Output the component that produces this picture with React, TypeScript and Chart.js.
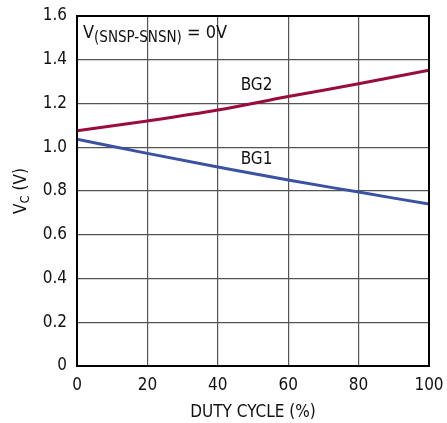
import React, { useEffect, useRef } from "react";
import { Chart, registerables } from "chart.js";
Chart.register(...registerables);

const dutyCycle = [0, 20, 40, 60, 80, 100];
const bg2 = [1.075, 1.12, 1.17, 1.232, 1.29, 1.352];
const bg1 = [1.037, 0.972, 0.91, 0.85, 0.795, 0.74];
const xTicks = [0, 20, 40, 60, 80, 100];
const yTicks = [0, 0.2, 0.4, 0.6, 0.8, 1.0, 1.2, 1.4, 1.6];

const FONT = "'DejaVu Sans Condensed', 'Liberation Sans Narrow', sans-serif";

const textPlugin = {
  id: "textPlugin",
  afterDraw(chart: any) {
    const ctx = chart.ctx;
    const xs = chart.scales.x;
    const ys = chart.scales.y;
    ctx.save();
    ctx.fillStyle = "#111";
    ctx.textBaseline = "middle";
    ctx.font = `17px ${FONT}`;
    ctx.textAlign = "left";
    ctx.fillText("BG2", xs.getPixelForValue(46.5), ys.getPixelForValue(1.28));
    ctx.fillText("BG1", xs.getPixelForValue(46.5), ys.getPixelForValue(0.945));
    let x = xs.getPixelForValue(1.7);
    const y = ys.getPixelForValue(1.52);
    ctx.font = `18px ${FONT}`;
    ctx.fillText("V", x, y);
    x += ctx.measureText("V").width;
    ctx.font = `15px ${FONT}`;
    ctx.fillText("(SNSP-SNSN)", x, y + 5);
    x += ctx.measureText("(SNSP-SNSN)").width;
    ctx.font = `18px ${FONT}`;
    ctx.fillText(" = 0V", x, y);
    ctx.translate(22, (ys.top + ys.bottom) / 2);
    ctx.rotate(-Math.PI / 2);
    ctx.font = `17px ${FONT}`;
    const w1 = ctx.measureText("V").width;
    ctx.font = `13px ${FONT}`;
    const w2 = ctx.measureText("C").width;
    ctx.font = `17px ${FONT}`;
    const w3 = ctx.measureText(" (V)").width;
    let tx = -(w1 + w2 + w3) / 2;
    ctx.fillText("V", tx, 0);
    tx += w1;
    ctx.font = `13px ${FONT}`;
    ctx.fillText("C", tx, 4);
    tx += w2;
    ctx.font = `17px ${FONT}`;
    ctx.fillText(" (V)", tx, 0);
    ctx.restore();
  },
};

export default function App() {
  const ref = useRef<HTMLCanvasElement>(null);
  useEffect(() => {
    document.body.style.margin = "0";
    const chart = new Chart(ref.current!, {
      type: "line",
      data: {
        datasets: [
          {
            label: "BG2",
            data: dutyCycle.map((d, i) => ({ x: d, y: bg2[i] })),
            borderColor: "#9a0c3a",
            borderWidth: 3,
            pointRadius: 0,
            cubicInterpolationMode: "monotone",
          },
          {
            label: "BG1",
            data: dutyCycle.map((d, i) => ({ x: d, y: bg1[i] })),
            borderColor: "#3b52a3",
            borderWidth: 3,
            pointRadius: 0,
            cubicInterpolationMode: "monotone",
          },
        ],
      },
      options: {
        animation: false,
        responsive: false,
        layout: { padding: { left: 0, right: 18, top: 16, bottom: 0 } },
        plugins: { legend: { display: false }, tooltip: { enabled: false } },
        scales: {
          x: {
            type: "linear",
            min: 0,
            max: 100,
            afterBuildTicks: (s: any) => {
              s.ticks = xTicks.map((v) => ({ value: v }));
            },
            afterFit: (s: any) => {
              s.height = 57;
              s.paddingLeft = 0;
              s.paddingRight = 0;
            },
            grid: { color: "#555", lineWidth: 1.2, drawTicks: false },
            border: { color: "#000", width: 2 },
            ticks: { color: "#111", font: { family: FONT, size: 17 }, padding: 9, maxRotation: 0 },
            title: {
              display: true,
              text: "DUTY CYCLE (%)",
              color: "#111",
              font: { family: FONT, size: 17 },
              padding: { top: 1, bottom: 0 },
            },
          },
          y: {
            type: "linear",
            min: 0,
            max: 1.6,
            afterBuildTicks: (s: any) => {
              s.ticks = yTicks.map((v) => ({ value: v }));
            },
            afterFit: (s: any) => {
              s.width = 77;
              s.paddingTop = 0;
              s.paddingBottom = 0;
            },
            grid: { color: "#555", lineWidth: 1.2, drawTicks: false },
            border: { color: "#000", width: 2 },
            ticks: {
              color: "#111",
              font: { family: FONT, size: 17 },
              padding: 10,
              callback: (v: any) => (v === 0 ? "0" : Number(v).toFixed(1)),
            },
          },
        },
      },
      plugins: [
        textPlugin,
        {
          id: "frame",
          afterDatasetsDraw(c: any) {
            const { left, right, top, bottom } = c.chartArea;
            const ctx = c.ctx;
            ctx.save();
            ctx.strokeStyle = "#000";
            ctx.lineWidth = 2;
            ctx.strokeRect(left, top, right - left, bottom - top);
            ctx.restore();
          },
        },
      ],
    } as any);
    return () => chart.destroy();
  }, []);
  return (
    <div style={{ width: 447, height: 423, background: "#fff" }}>
      <canvas ref={ref} width={447} height={423} style={{ display: "block" }} />
    </div>
  );
}
